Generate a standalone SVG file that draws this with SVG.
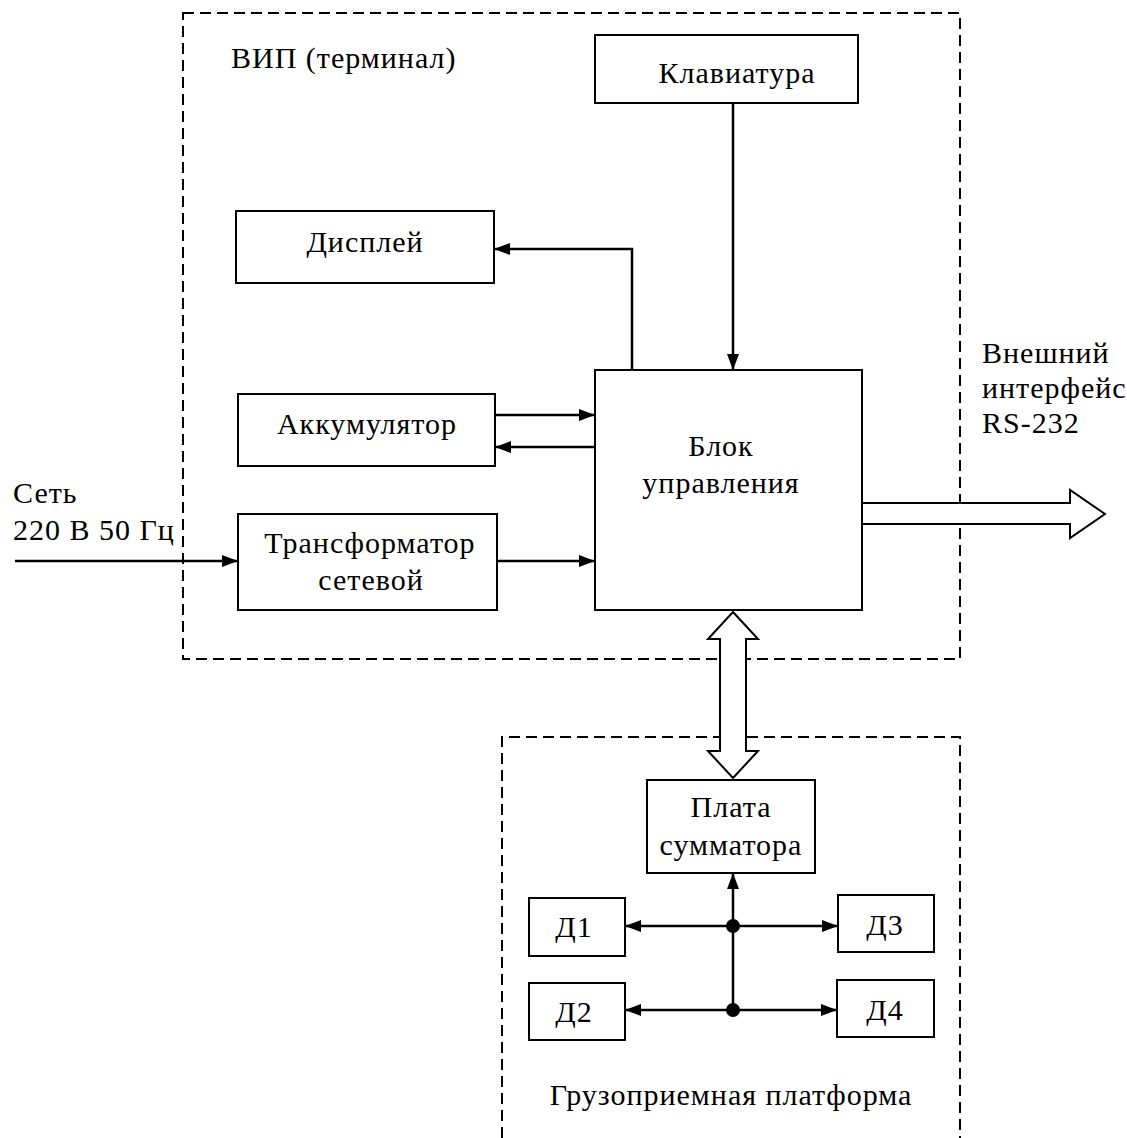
<svg xmlns="http://www.w3.org/2000/svg" width="1127" height="1138" viewBox="0 0 1127 1138" font-family="Liberation Serif, Times New Roman, DejaVu Serif, serif" font-size="30">
<defs>
<marker id="ah" markerWidth="16" markerHeight="12" refX="16" refY="6" orient="auto" markerUnits="userSpaceOnUse">
<path d="M0,0 L16,6 L0,12 Z" fill="#000"/>
</marker>
<style>
text{fill:#000;letter-spacing:1px}
.c{text-anchor:middle}
.box{fill:#fff;stroke:#000;stroke-width:2}
.dash{fill:none;stroke:#000;stroke-width:2;stroke-dasharray:11,6}
.ln{fill:none;stroke:#000;stroke-width:2.5}
.hollow{fill:#fff;stroke:#000;stroke-width:2;stroke-linejoin:miter}
</style>
</defs>
<rect width="1127" height="1138" fill="#fff"/>
<g id="containers">
<rect id="vip" class="dash" x="183" y="13" width="777" height="646"/>
<path id="platform" class="dash" d="M502,1138 V737 H960 V1138"/>
<text x="231" y="68">ВИП (терминал)</text>
<text class="c" x="731" y="1105">Грузоприемная платформа</text>
</g>
<g id="connectors">
<line class="ln" x1="733" y1="103" x2="733" y2="370" marker-end="url(#ah)"/>
<polyline class="ln" points="632,370 632,249 494,249" marker-end="url(#ah)"/>
<line class="ln" x1="495" y1="415" x2="595" y2="415" marker-end="url(#ah)"/>
<line class="ln" x1="595" y1="447" x2="495" y2="447" marker-end="url(#ah)"/>
<line class="ln" x1="497" y1="561" x2="595" y2="561" marker-end="url(#ah)"/>
<line class="ln" x1="15" y1="561" x2="238" y2="561" marker-end="url(#ah)"/>
<path class="hollow" d="M862,503 H1070 V490 L1105,514 L1070,538 V524 H862"/>
<path class="hollow" d="M733,612 L758,639 H746 V751 H758 L733,778 L708,751 H720 V639 H708 Z"/>
<line class="ln" x1="733" y1="1010" x2="733" y2="873" marker-end="url(#ah)"/>
<line class="ln" x1="733" y1="926" x2="625" y2="926" marker-end="url(#ah)"/>
<line class="ln" x1="733" y1="926" x2="838" y2="926" marker-end="url(#ah)"/>
<line class="ln" x1="733" y1="1010" x2="625" y2="1010" marker-end="url(#ah)"/>
<line class="ln" x1="733" y1="1010" x2="837" y2="1010" marker-end="url(#ah)"/>
<circle cx="733" cy="926" r="7"/>
<circle cx="733" cy="1010" r="7"/>
</g>
<g id="keyboard">
<rect class="box" x="595" y="35" width="263" height="68"/>
<text class="c" x="737" y="83">Клавиатура</text>
</g>
<g id="display">
<rect class="box" x="236" y="211" width="258" height="72"/>
<text class="c" x="365" y="252">Дисплей</text>
</g>
<g id="battery">
<rect class="box" x="238" y="394" width="257" height="72"/>
<text class="c" x="367" y="434">Аккумулятор</text>
</g>
<g id="transformer">
<rect class="box" x="238" y="514" width="259" height="96"/>
<text class="c" x="370" y="553">Трансформатор</text>
<text class="c" x="371" y="590">сетевой</text>
</g>
<g id="control">
<rect class="box" x="595" y="370" width="267" height="240"/>
<text class="c" x="721" y="456">Блок</text>
<text class="c" x="721" y="493">управления</text>
</g>
<g id="external">
<text x="982" y="363">Внешний</text>
<text x="982" y="398">интерфейс</text>
<text x="982" y="433">RS-232</text>
</g>
<g id="mains">
<text x="13" y="503">Сеть</text>
<text x="13" y="540">220 В 50 Гц</text>
</g>
<g id="summator">
<rect class="box" x="647" y="780" width="168" height="93"/>
<text class="c" x="731" y="817">Плата</text>
<text class="c" x="731" y="855">сумматора</text>
</g>
<g id="d1">
<rect class="box" x="529" y="898" width="96" height="58"/>
<text class="c" x="574" y="937">Д1</text>
</g>
<g id="d2">
<rect class="box" x="529" y="983" width="96" height="57"/>
<text class="c" x="574" y="1022">Д2</text>
</g>
<g id="d3">
<rect class="box" x="838" y="895" width="96" height="57"/>
<text class="c" x="885" y="935">Д3</text>
</g>
<g id="d4">
<rect class="box" x="837" y="980" width="97" height="57"/>
<text class="c" x="885" y="1020">Д4</text>
</g>
</svg>
